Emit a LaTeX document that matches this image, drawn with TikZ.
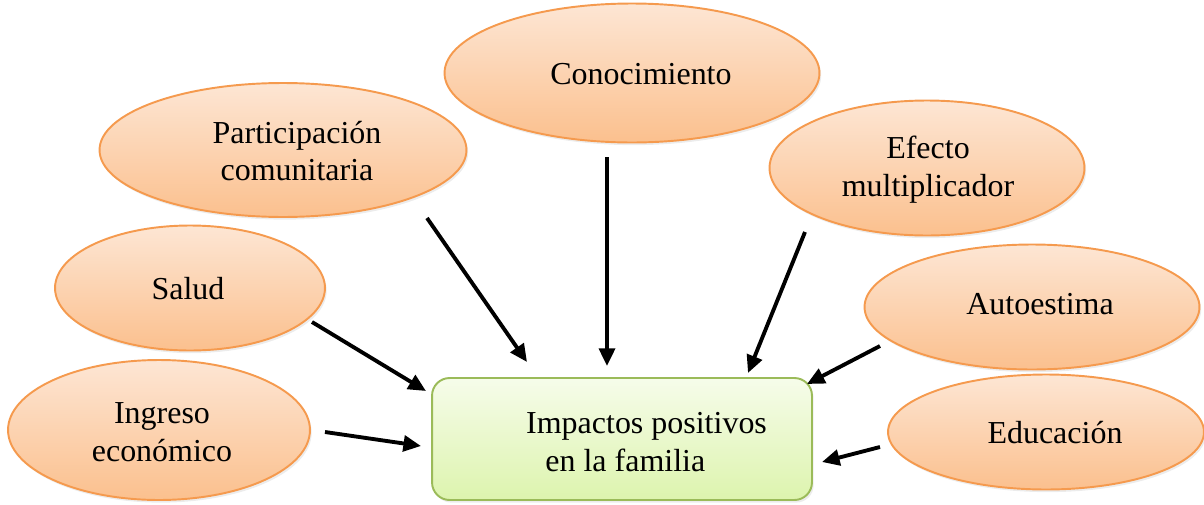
\documentclass[tikz,border=0pt]{standalone}
\usepackage{fontspec}
\setmainfont{Liberation Serif}
\usetikzlibrary{arrows.meta,shapes.geometric,shadows}
\definecolor{peachtop}{HTML}{FDE6D4}
\definecolor{peachbot}{HTML}{FBC08E}
\definecolor{peachline}{HTML}{F59A4E}
\definecolor{limetop}{HTML}{F6FCEA}
\definecolor{limebot}{HTML}{DDF4AE}
\definecolor{limeline}{HTML}{9BBB59}

\begin{document}
\begin{tikzpicture}[x=0.02cm,y=-0.02cm]
		\useasboundingbox (0,0) rectangle (1204,504);
		\begin{scope}[every node/.style={ellipse,draw=peachline,line width=1.1pt,
				top color=peachtop,bottom color=peachbot,align=center,inner sep=0pt,
				drop shadow={opacity=0.15,shadow xshift=1pt,shadow yshift=-1.5pt},
				font=\fontsize{18.2}{21.5}\selectfont}]
			\node[minimum width=7.5cm,minimum height=2.78cm] (conoc) at (632,73) {};
			\node[minimum width=7.34cm,minimum height=2.68cm] (partic) at (283,150) {};
			\node[minimum width=6.3cm,minimum height=2.7cm] (efecto) at (927,168) {};
			\node[minimum width=5.4cm,minimum height=2.5cm] (salud) at (190,288) {};
			\node[minimum width=6.7cm,minimum height=2.5cm] (autoest) at (1032,307) {};
			\node[minimum width=6.04cm,minimum height=2.8cm] (ingreso) at (159,430) {};
			\node[minimum width=6.32cm,minimum height=2.3cm] (educ) at (1046,432) {};
		\end{scope}
		\begin{scope}[every node/.style={align=center,font=\fontsize{18.2}{21.5}\selectfont}]
			\node at (641,74) {Conocimiento};
			\node at (297,151) {Participación\\comunitaria};
			\node at (928,170) {Efecto\\multiplicador};
			\node at (188,289) {Salud};
			\node at (1040,304) {Autoestima};
			\node at (162,432) {Ingreso\\económico};
			\node at (1055,433) {Educación};
		\end{scope}
		\node[draw=limeline,line width=1.1pt,rounded corners=10pt,
			top color=limetop,bottom color=limebot,
			drop shadow={opacity=0.15,shadow xshift=1pt,shadow yshift=-1.5pt},
			minimum width=7.6cm,minimum height=2.44cm] (impact) at (622,439) {};
		\node[align=left,anchor=west,font=\fontsize{18.2}{21.5}\selectfont] (impacttext) at (520,442)
			{Impactos positivos\\\hspace{0.6em}en la familia};
		% free arrow ends
		\coordinate (partic-a) at (427,218);  \coordinate (partic-b) at (527,362);
		\coordinate (conoc-a) at (607,157);   \coordinate (conoc-b) at (607,366);
		\coordinate (efecto-a) at (805,232);  \coordinate (efecto-b) at (748,373);
		\coordinate (salud-a) at (312,322);   \coordinate (salud-b) at (426,391);
		\coordinate (ingreso-a) at (325,432); \coordinate (ingreso-b) at (421,446);
		\coordinate (autoest-a) at (880,346); \coordinate (autoest-b) at (807,384);
		\coordinate (educ-a) at (880,447);    \coordinate (educ-b) at (822,462);
		\begin{scope}[>={Triangle[black,length=10pt,width=9pt]},
			every edge/.style={draw=black,line width=2.2pt}]
			\path [->] (partic-a) edge (partic-b);
			\path [->] (conoc-a) edge (conoc-b);
			\path [->] (efecto-a) edge (efecto-b);
			\path [->] (salud-a) edge (salud-b);
			\path [->] (ingreso-a) edge (ingreso-b);
			\path [->] (autoest-a) edge (autoest-b);
			\path [->] (educ-a) edge (educ-b);
		\end{scope}
	\end{tikzpicture}
\end{document}
